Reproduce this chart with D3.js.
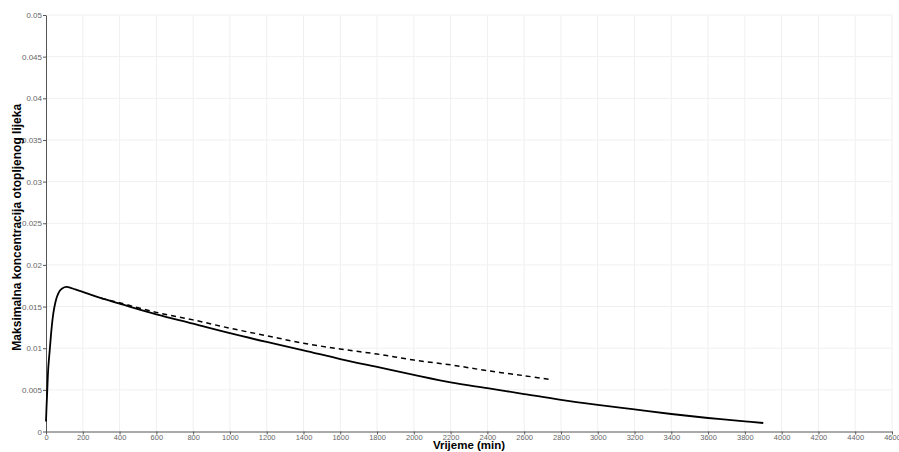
<!DOCTYPE html>
<html><head><meta charset="utf-8">
<script src="https://cdn.jsdelivr.net/npm/d3@7"></script>
<style>body{margin:0;background:#fff}svg{display:block}</style>
</head><body><svg id="c" width="899" height="452"></svg>
<script>
const xTicks = d3.range(0, 4601, 200);
const yTicks = [0, 0.005, 0.01, 0.015, 0.02, 0.025, 0.03, 0.035, 0.04, 0.045, 0.05];
const yTickLabels = ["0","0.005","0.01","0.015","0.02","0.025","0.03","0.035","0.04","0.045","0.05"];
const solidT = [0,3,7,12,22,30,40,50,60,75,90,110,130,160,200,300,400,600,800,1000,1200,1400,1600,1800,2000,2200,2400,2600,2800,3000,3200,3400,3600,3800,3900];
const solidC = [0.0012,0.003,0.005,0.0075,0.0102,0.0123,0.0142,0.0154,0.0162,0.0169,0.0172,0.01735,0.01728,0.01705,0.01675,0.0160,0.01535,0.01407,0.01295,0.0118,0.01075,0.00975,0.0087,0.00775,0.0068,0.0059,0.0052,0.0045,0.0038,0.0032,0.00265,0.0021,0.00162,0.00122,0.00102];
const dashT = [300,400,600,800,1000,1200,1400,1600,1800,2000,2200,2400,2600,2750];
const dashC = [0.0160,0.01545,0.0143,0.0134,0.0124,0.0115,0.0106,0.0099,0.0093,0.00858,0.0080,0.0073,0.0067,0.0062];
const xTitle = "Vrijeme (min)";
const yTitle = "Maksimalna koncentracija otopljenog lijeka";

const svg = d3.select("#c");
const L = 46, R = 892, T = 15, B = 431.5;
const x = d3.scaleLinear().domain([0, 4600]).range([L, R]);
const y = d3.scaleLinear().domain([0, 0.05]).range([B, T]);

const grid = svg.append("g");
grid.selectAll(".gx").data(xTicks.slice(1)).join("line")
  .attr("x1", d => x(d)).attr("x2", d => x(d)).attr("y1", T).attr("y2", B)
  .attr("stroke", "#f0f0f0").attr("stroke-width", 1);
grid.selectAll(".gy").data(yTicks.slice(1)).join("line")
  .attr("x1", L).attr("x2", R).attr("y1", d => y(d)).attr("y2", d => y(d))
  .attr("stroke", "#f0f0f0").attr("stroke-width", 1);

const font = "'Liberation Sans', Arial, sans-serif";
const xa = svg.append("g").attr("transform", `translate(0,${B})`)
  .call(d3.axisBottom(x).tickValues(xTicks).tickFormat(d3.format("d")).tickSize(3).tickSizeOuter(0).tickPadding(0));
const ya = svg.append("g").attr("transform", `translate(${L},0)`)
  .call(d3.axisLeft(y).tickValues(yTicks).tickFormat((d,i) => yTickLabels[i]).tickSize(3).tickSizeOuter(0).tickPadding(1));
[xa, ya].forEach(a => {
  a.select(".domain").attr("stroke", "#555");
  a.selectAll(".tick line").attr("stroke", "#555");
  a.selectAll("text").attr("fill", "#666").style("font-family", font).style("font-size", "8px");
});
xa.selectAll("text").style("font-size", "7.5px");

const line = d3.line().x(d => x(d[0])).y(d => y(d[1])).curve(d3.curveCatmullRom.alpha(0.5));
svg.append("path").datum(solidT.map((t,i) => [t, solidC[i]]))
  .attr("d", line).attr("fill", "none").attr("stroke", "#000").attr("stroke-width", 1.8);
svg.append("path").datum(dashT.map((t,i) => [t, dashC[i]]))
  .attr("d", line).attr("fill", "none").attr("stroke", "#000").attr("stroke-width", 1.5)
  .attr("stroke-dasharray", "5,4");

svg.append("text").attr("x", 469).attr("y", 449).attr("text-anchor", "middle")
  .style("font-family", font).style("font-weight", "bold").style("font-size", "11.5px").text(xTitle);
svg.append("text").attr("transform", `translate(21,${(T+B)/2 + 4}) rotate(-90)`).attr("text-anchor", "middle")
  .style("font-family", font).style("font-weight", "bold").style("font-size", "12px").text(yTitle);
</script></body></html>
